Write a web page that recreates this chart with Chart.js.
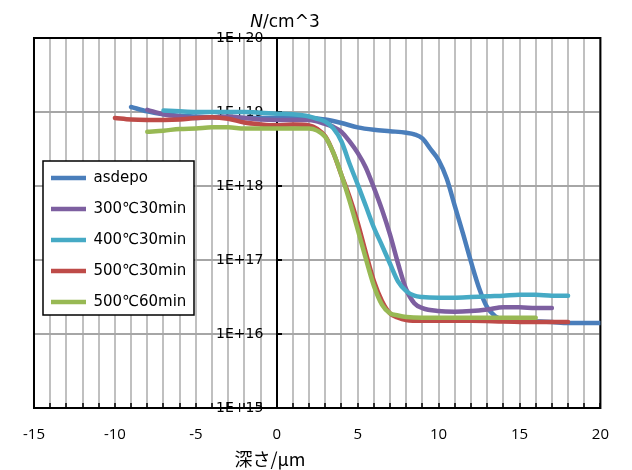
<!DOCTYPE html>
<html><head><meta charset="utf-8">
<script src="https://cdn.jsdelivr.net/npm/chart.js@4/dist/chart.umd.min.js"></script>
<style>html,body{margin:0;padding:0;background:#fff;} canvas{display:block;}</style>
</head><body>
<canvas id="c" width="632" height="470"></canvas>
<script>
// ---- data (depth in µm, concentration in cm^-3) ----
const seriesNames = ['asdepo', '300℃30min', '400℃30min', '500℃30min', '500℃60min'];
const seriesColors = ['#4A7EBB', '#7D5FA0', '#46AAC5', '#BE4B48', '#98B954'];

const depthAsdepo = [-9,-8,-7,-6,-5,-4,-3,-2,-1,0,1,2,3,4,5,6,7,8,8.5,9,9.5,10,10.5,11,11.5,12,12.5,13,13.5,14,15,16,17,18,19,20];
const concAsdepo = [1.17e19,1.02e19,9.3e18,8.9e18,8.7e18,8.5e18,8.5e18,8.3e18,8.3e18,8.3e18,8.5e18,8.3e18,7.9e18,7.1e18,6.2e18,5.75e18,5.5e18,5.25e18,5.0e18,4.4e18,3.16e18,2.24e18,1.26e18,5.4e17,2.3e17,9.5e16,4.2e16,2.3e16,1.74e16,1.58e16,1.51e16,1.48e16,1.45e16,1.41e16,1.41e16,1.41e16];

const depth300 = [-8,-7,-6,-5,-4,-3,-2,-1,0,1,2,3,3.5,4,4.5,5,5.5,6,6.5,7,7.5,8,8.5,9,10,11,12,13,14,15,16,17];
const conc300 = [1.07e19,9.3e18,8.7e18,8.3e18,8.5e18,8.7e18,8.3e18,7.9e18,7.8e18,7.8e18,7.8e18,6.9e18,6.3e18,5.4e18,4.0e18,2.8e18,1.78e18,9.5e17,4.8e17,2.2e17,8.9e16,4.0e16,2.6e16,2.24e16,2.04e16,2.0e16,2.04e16,2.14e16,2.3e16,2.3e16,2.24e16,2.24e16];

const depth400 = [-7,-6,-5,-4,-3,-2,-1,0,1,2,2.5,3,3.5,4,4.5,5,5.5,6,6.5,7,7.5,8,8.5,9,10,11,12,13,14,15,16,17,18];
const conc400 = [1.05e19,1.02e19,1.0e19,1.0e19,1.0e19,1.0e19,9.8e18,9.5e18,9.3e18,8.7e18,8.1e18,7.4e18,6.0e18,4.0e18,2.0e18,1.05e18,5.4e17,2.75e17,1.58e17,8.9e16,5.1e16,3.8e16,3.3e16,3.16e16,3.1e16,3.1e16,3.16e16,3.24e16,3.3e16,3.4e16,3.4e16,3.3e16,3.3e16];

const depth500a = [-10,-9,-8,-7,-6,-5,-4,-3,-2,-1,0,1,2,2.5,3,3.5,4,4.5,5,5.5,6,6.5,7,7.5,8,9,10,12,14,16,18];
const conc500a = [8.3e18,7.9e18,7.8e18,7.8e18,7.9e18,8.3e18,8.5e18,8.1e18,7.2e18,6.8e18,6.6e18,6.8e18,6.6e18,5.9e18,4.7e18,2.8e18,1.4e18,7.1e17,3.2e17,1.26e17,5.2e16,2.8e16,1.9e16,1.66e16,1.55e16,1.51e16,1.51e16,1.51e16,1.48e16,1.45e16,1.45e16];

const depth500b = [-8,-7,-6,-5,-4,-3,-2,-1,0,1,2,2.5,3,3.5,4,4.5,5,5.5,6,6.5,7,7.5,8,9,10,12,14,16];
const conc500b = [5.4e18,5.6e18,5.9e18,6.0e18,6.2e18,6.2e18,6.0e18,6.0e18,6.0e18,6.0e18,6.0e18,5.6e18,4.6e18,2.8e18,1.4e18,6.3e17,2.6e17,1.05e17,4.5e16,2.5e16,1.9e16,1.78e16,1.7e16,1.66e16,1.66e16,1.66e16,1.66e16,1.66e16];

const xTickValues = [-15,-10,-5,0,5,10,15,20];
const xTickLabels = ['-15','-10','-5','0','5','10','15','20'];
const yTickValues = [1e15,1e16,1e17,1e18,1e19,1e20];
const yTickLabels = ['1E+15','1E+16','1E+17','1E+18','1E+19','1E+20'];
const xTitle = '深さ/μm';
const yTitleItalic = 'N';
const yTitleRest = '/cm^3';

const depths = [depthAsdepo, depth300, depth400, depth500a, depth500b];
const concs = [concAsdepo, conc300, conc400, conc500a, conc500b];

const LEGEND_FONT = 15;
const LEGEND_PAD = 16;

// ---- plugins ----
const legendBoxPlugin = {
  id: 'legendBox',
  afterLayout(chart) {
    const lg = chart.legend;
    if (!lg || lg._wrapped) return;
    const orig = lg.draw.bind(lg);
    lg.draw = function () {
      const ctx = chart.ctx;
      const hb = lg.legendHitBoxes && lg.legendHitBoxes[0];
      const baseX = hb ? hb.left : lg.left + LEGEND_PAD;
      const baseY = hb ? hb.top + LEGEND_FONT / 2 : lg.top + LEGEND_PAD + LEGEND_FONT / 2;
      ctx.save();
      ctx.fillStyle = '#fff';
      ctx.strokeStyle = '#000';
      ctx.lineWidth = 1.5;
      ctx.fillRect(43, 161, 151, 154);
      ctx.strokeRect(43, 161, 151, 154);
      ctx.translate(51 - baseX, 178 - baseY);
      orig();
      ctx.restore();
    };
    lg._wrapped = true;
  }
};

const framePlugin = {
  id: 'frame',
  beforeDatasetsDraw(chart) {
    const {ctx, chartArea: a} = chart;
    ctx.save();
    ctx.strokeStyle = '#000';
    ctx.lineWidth = 2;
    ctx.strokeRect(a.left, a.top, a.right - a.left, a.bottom - a.top);
    ctx.restore();
  }
};

const titlesPlugin = {
  id: 'axisTitles',
  afterDraw(chart) {
    const ctx = chart.ctx;
    ctx.save();
    ctx.fillStyle = '#000';
    ctx.textAlign = 'left';
    ctx.textBaseline = 'alphabetic';
    const fItal = 'italic 17px "DejaVu Sans"';
    const fNorm = '17px "DejaVu Sans"';
    ctx.font = fItal;
    const w1 = ctx.measureText(yTitleItalic).width;
    ctx.font = fNorm;
    const w2 = ctx.measureText(yTitleRest).width;
    const x0 = 285 - (w1 + w2) / 2;
    ctx.font = fItal;
    ctx.fillText(yTitleItalic, x0, 27);
    ctx.font = fNorm;
    ctx.fillText(yTitleRest, x0 + w1, 27);
    ctx.font = '18px "Noto Sans CJK JP"';
    ctx.textAlign = 'center';
    ctx.textBaseline = 'middle';
    ctx.fillText(xTitle, 270, 459);
    ctx.restore();
  }
};

new Chart(document.getElementById('c'), {
  type: 'line',
  data: {
    datasets: seriesNames.map((name, i) => ({
      label: name,
      data: depths[i].map((x, k) => ({x: x, y: concs[i][k]})),
      borderColor: seriesColors[i],
      backgroundColor: seriesColors[i],
      borderWidth: 4.5,
      pointRadius: 0,
      pointHoverRadius: 0,
      fill: false,
      cubicInterpolationMode: 'monotone',
      borderCapStyle: 'round',
      borderJoinStyle: 'round',
      order: seriesNames.length - i
    }))
  },
  options: {
    responsive: false,
    animation: false,
    devicePixelRatio: 1,
    layout: {padding: {left: 30, right: 22, top: 38, bottom: 3}},
    plugins: {
      legend: {
        position: 'chartArea',
        align: 'start',
        labels: {
          usePointStyle: true,
          pointStyle: 'line',
          pointStyleWidth: 35,
          padding: LEGEND_PAD,
          color: '#000',
          font: {family: '"DejaVu Sans"', size: LEGEND_FONT},
          sort: (a, b) => a.datasetIndex - b.datasetIndex
        }
      },
      tooltip: {enabled: false},
      title: {display: false}
    },
    scales: {
      x: {
        type: 'linear',
        min: -15,
        max: 20,
        ticks: {
          stepSize: 1,
          autoSkip: false,
          maxRotation: 0,
          padding: 23,
          color: '#000',
          font: {family: '"Open Sans"', size: 15},
          callback(v) {
            const k = xTickValues.indexOf(v);
            return k >= 0 ? xTickLabels[k] : '';
          }
        },
        grid: {color: '#c0c0c0', lineWidth: 2, tickLength: -5, tickColor: '#000', tickWidth: 1.5},
        border: {color: '#000', width: 2}
      },
      y: {
        type: 'logarithmic',
        min: 1e15,
        max: 1e20,
        position: {x: 0},
        afterBuildTicks(s) { s.ticks = yTickValues.map(v => ({value: v})); },
        ticks: {
          color: '#000',
          font: {family: '"DejaVu Sans"', size: 14},
          callback(v, i) { return yTickLabels[i] + '   '; }
        },
        grid: {color: '#a6a6a6', lineWidth: 2, tickLength: -6, tickColor: '#000', tickWidth: 2},
        border: {color: '#000', width: 2}
      }
    }
  },
  plugins: [legendBoxPlugin, framePlugin, titlesPlugin]
});
</script>
</body></html>
